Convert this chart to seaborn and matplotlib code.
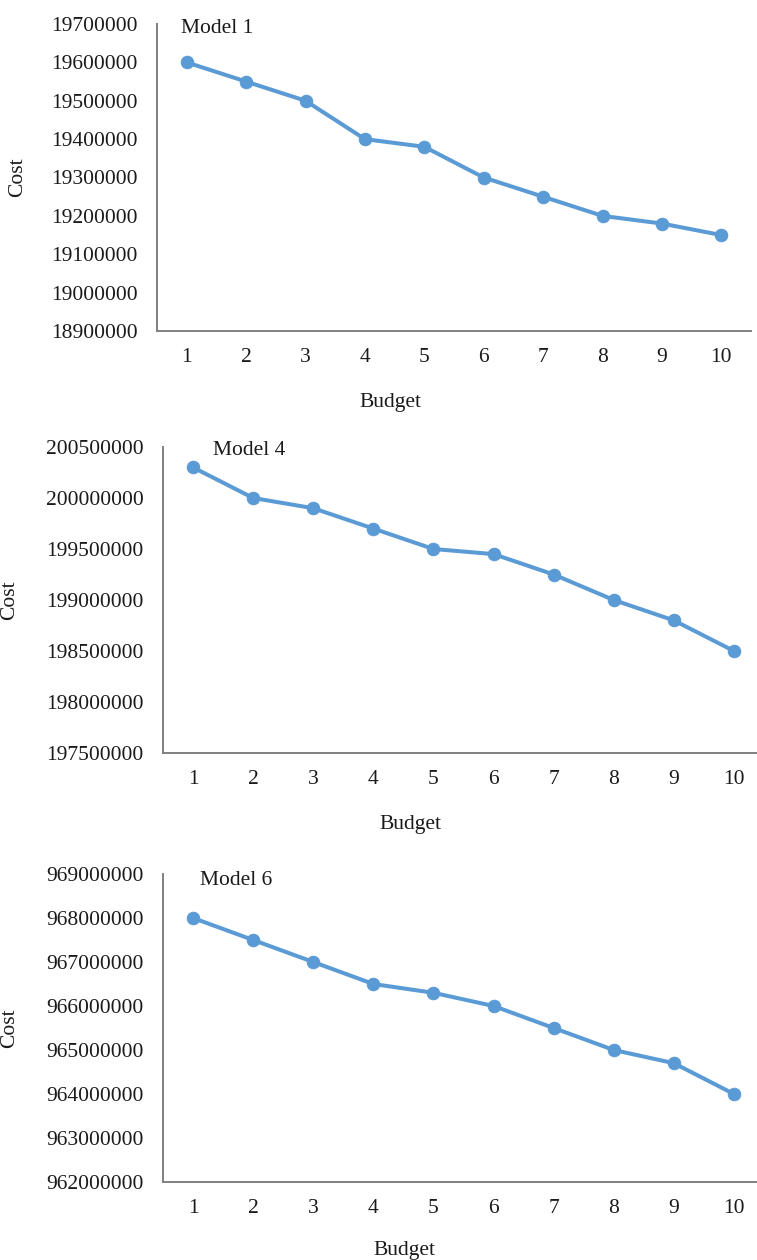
import numpy as np
import pandas as pd
import matplotlib
matplotlib.use("Agg")
import matplotlib.pyplot as plt
import matplotlib.ticker as mticker
import seaborn as sns

budget = [1, 2, 3, 4, 5, 6, 7, 8, 9, 10]

model1_cost = [19600000, 19550000, 19500000, 19400000, 19380000,
               19300000, 19250000, 19200000, 19180000, 19150000]
model4_cost = [200300000, 200000000, 199900000, 199700000, 199500000,
               199450000, 199250000, 199000000, 198800000, 198500000]
model6_cost = [968000000, 967500000, 967000000, 966500000, 966300000,
               966000000, 965500000, 965000000, 964700000, 964000000]

model_names = ["Model 1", "Model 4", "Model 6"]
y_limits = [(18900000, 19700000), (197500000, 200500000), (962000000, 969000000)]
y_steps = [100000, 500000, 1000000]

LINE_COLOR = "#5B9BD5"
SPINE_COLOR = "#808080"
TEXT_COLOR = "#1a1a1a"

sns.set_style("white")
plt.rcParams["font.family"] = ["Liberation Serif", "DejaVu Serif"]

W, H = 757, 1260
fig = plt.figure(figsize=(W / 100, H / 100), dpi=100)

# axes boxes in pixels: left, right, top, bottom
boxes = [(157, 751, 24, 331), (163, 764, 447, 753), (163, 764, 874, 1182)]
label_pos = [(0.9, 0.985), (1.33, 0.99), (1.12, 0.978)]
ylabel_x = [18, 10, 10]
xlabel_xy = [(390, 402), (410, 824), (404, 1250)]

for i, cost in enumerate([model1_cost, model4_cost, model6_cost]):
    l, r, t, b = boxes[i]
    ax = fig.add_axes([l / W, (H - b) / H, (r - l) / W, (b - t) / H])
    df = pd.DataFrame({"Budget": budget, "Cost": cost})
    sns.lineplot(data=df, x="Budget", y="Cost", ax=ax, color=LINE_COLOR,
                 linewidth=2.9, marker="o", markersize=9,
                 markeredgecolor=LINE_COLOR, clip_on=False)

    ax.set_xlim(0.5, 10.5)
    ax.set_ylim(*y_limits[i])
    ax.set_xticks(budget)
    ax.yaxis.set_major_locator(mticker.MultipleLocator(y_steps[i]))
    ax.yaxis.set_major_formatter(mticker.FuncFormatter(lambda v, p: f"{int(round(v))}"))
    ax.tick_params(axis="both", length=0, labelsize=15.5, colors=TEXT_COLOR)
    ax.tick_params(axis="y", pad=14)
    ax.tick_params(axis="x", pad=12)

    for s in ["top", "right"]:
        ax.spines[s].set_visible(False)
    for s in ["left", "bottom"]:
        ax.spines[s].set_color(SPINE_COLOR)
        ax.spines[s].set_linewidth(1.4)

    ax.set_xlabel("")
    ax.set_ylabel("")
    fig.text(ylabel_x[i] / W, 1 - ((t + b) / 2) / H, "Cost", rotation=90,
             ha="center", va="center", fontsize=15.5, color=TEXT_COLOR)
    bx, by = xlabel_xy[i]
    fig.text(bx / W, 1 - by / H, "Budget",
             ha="center", va="center", fontsize=15.5, color=TEXT_COLOR)

    tx, ty = label_pos[i]
    ax.text(tx, ty, model_names[i], transform=ax.get_xaxis_transform(),
            ha="left", va="center", fontsize=15.5, color=TEXT_COLOR)

fig.savefig("out.png", dpi=100)
